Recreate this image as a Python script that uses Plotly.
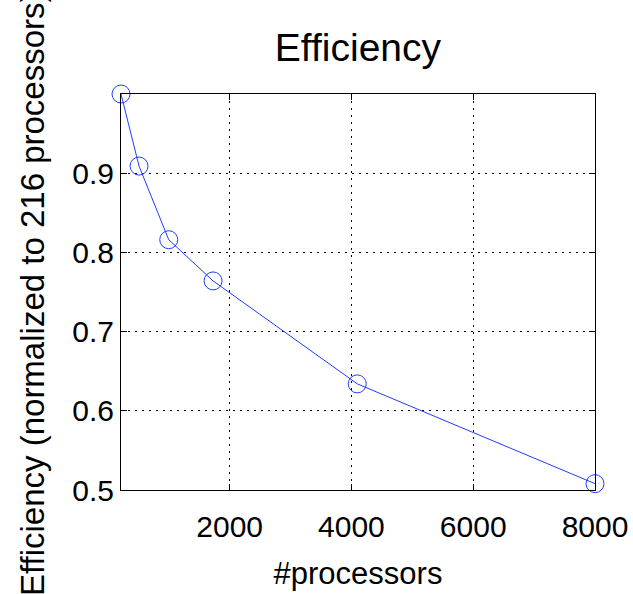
import plotly.graph_objects as go

# Parallel efficiency vs. processor count (normalized to the 216-processor run)
processors = [216, 512, 1000, 1728, 4096, 8000]
efficiency = [1.0, 0.909, 0.816, 0.764, 0.634, 0.508]

x_ticks = [2000, 4000, 6000, 8000]
y_ticks = [0.5, 0.6, 0.7, 0.8, 0.9]

FONT = "Liberation Sans, Arial, sans-serif"
LINE_BLUE = "#1f3dff"

fig = go.Figure()
fig.add_trace(go.Scatter(
    x=processors,
    y=efficiency,
    mode="lines+markers",
    line=dict(color=LINE_BLUE, width=1),
    marker=dict(symbol="circle-open", size=18, color=LINE_BLUE,
                line=dict(width=1, color=LINE_BLUE)),
    showlegend=False,
    cliponaxis=False,
))

axis_common = dict(
    showline=True, linecolor="black", linewidth=1, mirror="ticks",
    ticks="inside", ticklen=6, tickcolor="black", tickwidth=1,
    showgrid=True, gridcolor="black", gridwidth=1, griddash="2px,5px",
    zeroline=False, automargin=False,
    tickfont=dict(family=FONT, size=30, color="black"),
)

fig.update_xaxes(
    range=[216, 8000], tickvals=x_ticks, ticktext=[str(v) for v in x_ticks],
    ticklabelstandoff=10,
    title=dict(text="#processors", font=dict(family=FONT, size=31, color="black"),
               standoff=20),
    **axis_common,
)
fig.update_yaxes(
    range=[0.5, 1.0], tickvals=y_ticks, ticktext=[f"{v:.1f}" for v in y_ticks],
    **axis_common,
)

# Rotated y-axis label, anchored at the bottom so the long text runs off the top
fig.add_annotation(
    text="Efficiency (normalized to 216 processors)",
    textangle=-90,
    xref="paper", yref="paper",
    x=-0.188, y=-0.272,
    xanchor="center", yanchor="bottom",
    showarrow=False,
    font=dict(family=FONT, size=33, color="black"),
)

fig.update_layout(
    width=633, height=594,
    margin=dict(l=121, r=38, t=94, b=104),
    paper_bgcolor="white", plot_bgcolor="white",
    title=dict(text="Efficiency", x=0.5655, xanchor="center",
               y=0.92, yanchor="middle",
               font=dict(family=FONT, size=39, color="black")),
)

fig.write_html("out.html")
